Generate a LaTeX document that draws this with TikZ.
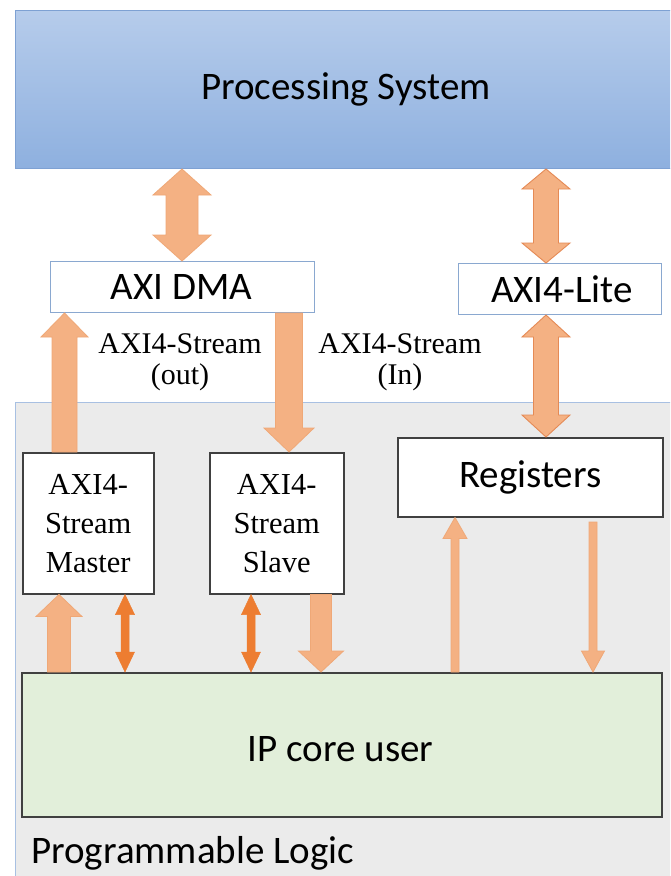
\documentclass[tikz,border=0pt]{standalone}
\usepackage{fontspec}
\setmainfont{Liberation Serif}
\newfontfamily\calibri{Carlito}
\usetikzlibrary{calc}
\definecolor{psTop}{HTML}{B6CCEB}
\definecolor{psBot}{HTML}{8EB0DF}
\definecolor{psLine}{HTML}{7EA1D3}
\definecolor{plFill}{HTML}{EBEBEB}
\definecolor{plLine}{HTML}{A8C0E2}
\definecolor{ipFill}{HTML}{E2EFDA}
\definecolor{arrLight}{HTML}{F4B183}
\definecolor{arrLightLine}{HTML}{EFA877}
\definecolor{arrMidLine}{HTML}{E58A55}
\definecolor{arrDark}{HTML}{ED7D31}
\definecolor{boxLine}{HTML}{404040}
\definecolor{blueLine}{HTML}{8AA8D0}

% block arrows: #1 style, #2 top point, #3 bottom point, #4 shaft half width, #5 head half width, #6 head length
\newcommand\barrowboth[6][]{\draw[#1] let \p1=(#2), \p2=(#3) in
  (\x1,\y1) -- (\x1+#5,\y1-#6) -- (\x1+#4,\y1-#6) -- (\x1+#4,\y2+#6) -- (\x1+#5,\y2+#6) -- (\x1,\y2)
  -- (\x1-#5,\y2+#6) -- (\x1-#4,\y2+#6) -- (\x1-#4,\y1-#6) -- (\x1-#5,\y1-#6) -- cycle;}
\newcommand\barrowup[6][]{\draw[#1] let \p1=(#2), \p2=(#3) in
  (\x1,\y1) -- (\x1+#5,\y1-#6) -- (\x1+#4,\y1-#6) -- (\x1+#4,\y2) -- (\x1-#4,\y2)
  -- (\x1-#4,\y1-#6) -- (\x1-#5,\y1-#6) -- cycle;}
\newcommand\barrowdown[6][]{\draw[#1] let \p1=(#2), \p2=(#3) in
  (\x1-#4,\y1) -- (\x1+#4,\y1) -- (\x1+#4,\y2+#6) -- (\x1+#5,\y2+#6) -- (\x1,\y2)
  -- (\x1-#5,\y2+#6) -- (\x1-#4,\y2+#6) -- cycle;}

\tikzset{
  sansbig/.style={font={\calibri\fontsize{39}{46}\selectfont}},
  seriftext/.style={font={\fontsize{30.5}{39}\selectfont}, align=center},
  blk/.style={draw=boxLine, line width=1.5pt, fill=white, inner sep=0pt, anchor=north west},
  bluebox/.style={draw=blueLine, line width=1pt, fill=white, inner sep=0pt, anchor=north west},
  lightarr/.style={fill=arrLight, draw=arrLightLine, line width=0.8pt, line join=miter},
  midarr/.style={fill=arrLight, draw=arrMidLine, line width=0.9pt, line join=miter},
  darkarr/.style={fill=arrDark, draw=arrDark, line width=0.5pt, line join=miter},
}

\begin{document}
\begin{tikzpicture}[x=1pt, y=-1pt]
\useasboundingbox (0,0) rectangle (670,876);
\clip (0,0) rectangle (670,876);
\fill[white] (0,0) rectangle (670,876);

% Programmable Logic region
\node[draw=plLine, line width=1pt, fill=plFill, inner sep=0pt, anchor=north west,
      minimum width=680pt, minimum height=500pt] (pl) at (15,402) {};
\node[sansbig, anchor=west, inner sep=0pt] (pltext) at (31,853) {Programmable Logic};

% Processing System
\node[draw=psLine, line width=1pt, top color=psTop, bottom color=psBot, inner sep=0pt,
      anchor=north west, minimum width=680pt, minimum height=158pt] (psbox) at (15,10) {};
\node[sansbig] (pstext) at (346,89) {Processing System};

% Interface boxes
\node[bluebox, minimum width=264pt, minimum height=51pt] (dma) at (50,261) {};
\node[sansbig] at ($(dma.center)+(-1,0)$) {AXI DMA};
\node[bluebox, minimum width=203pt, minimum height=51pt] (lite) at (458,263) {};
\node[sansbig] at ($(lite.center)+(2,0)$) {AXI4-Lite};

% PL blocks
\node[blk, minimum width=131pt, minimum height=141pt] (mst) at (22,452) {};
\node[seriftext] at (mst.center) {AXI4-\\Stream\\Master};
\node[blk, minimum width=134pt, minimum height=141pt] (slv) at (209,452) {};
\node[seriftext] at (slv.center) {AXI4-\\Stream\\Slave};
\node[blk, minimum width=265pt, minimum height=79pt] (reg) at (397,437) {};
\node[sansbig] at ($(reg.center)+(0,0)$) {Registers};
\node[blk, fill=ipFill, minimum width=640pt, minimum height=144pt] (ip) at (21,672) {};
\node[sansbig] at ($(ip.center)+(-1,4)$) {IP core user};

% Stream labels
\node[seriftext, font={\fontsize{30}{31}\selectfont}] (lblout) at (180,362) {AXI4-Stream\\(out)};
\node[seriftext, font={\fontsize{30}{31}\selectfont}] (lblin) at (400,362) {AXI4-Stream\\(In)};

% Arrows PS <-> interfaces
\barrowboth[lightarr]{182,0 |- psbox.south}{182,0 |- dma.north}{16pt}{29pt}{26pt}
\barrowboth[midarr]{546,0 |- psbox.south}{546,0 |- lite.north}{12.5pt}{24pt}{20pt}
\barrowboth[midarr]{546,0 |- lite.south}{546,0 |- reg.north}{12.5pt}{24pt}{22pt}

% Streams
\barrowup[lightarr]{64.5,0 |- dma.south}{64.5,0 |- mst.north}{12.5pt}{23.5pt}{24pt}
\barrowdown[lightarr]{289,0 |- dma.south}{289,0 |- slv.north}{13.5pt}{25pt}{24pt}

% Lower arrows
\barrowup[lightarr]{59,0 |- mst.south}{59,0 |- ip.north}{11.5pt}{23pt}{22pt}
\barrowboth[darkarr]{125,0 |- mst.south}{125,0 |- ip.north}{4pt}{9.5pt}{20pt}
\barrowboth[darkarr]{251,0 |- slv.south}{251,0 |- ip.north}{4pt}{9.5pt}{20pt}
\barrowdown[lightarr]{321,3 |- slv.south}{321,0 |- ip.north}{10.5pt}{22.5pt}{21pt}
\barrowup[lightarr]{455,0 |- reg.south}{455,0 |- ip.north}{4pt}{12pt}{21pt}
\barrowdown[lightarr]{593,522}{593,0 |- ip.north}{4pt}{11.5pt}{21pt}
\end{tikzpicture}
\end{document}
